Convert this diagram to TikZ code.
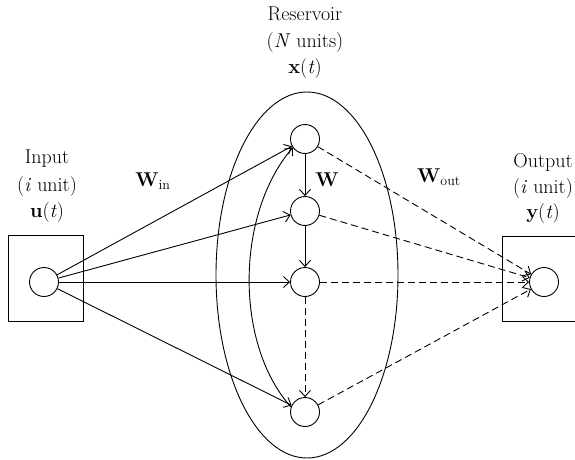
\documentclass[tikz,border=0pt]{standalone}
\usepackage{tikz}
\usetikzlibrary{arrows.meta,shapes.geometric}
\begin{document}
\begin{tikzpicture}[x=1pt,y=-1pt,
  unit/.style={circle,draw,line width=0.9pt,minimum size=29pt,inner sep=0pt},
  lbl/.style={anchor=base,font=\fontsize{20}{24}\selectfont,inner sep=0pt},
  conn/.style={line width=0.9pt,-{Straight Barb[length=6pt,width=11pt]}},
  dconn/.style={conn,dash pattern=on 7pt off 4pt},
  frame/.style={draw,line width=0.9pt,inner sep=0pt}]
\useasboundingbox (0,0) rectangle (575,460);
\clip (0,0) rectangle (575,460);
% boxes and reservoir
\node[frame,minimum width=75pt,minimum height=86pt] (inbox) at (45.5,278) {};
\node[frame,minimum width=75pt,minimum height=85pt] (outbox) at (539.5,278.5) {};
\node[frame,ellipse,minimum width=182pt,minimum height=366pt] (res) at (307,275) {};
% units
\node[unit] (in) at (44,282) {};
\node[unit] (r1) at (305,139) {};
\node[unit] (r2) at (305,211) {};
\node[unit] (r3) at (305,282) {};
\node[unit] (r4) at (305,412) {};
\node[unit] (out) at (544,282) {};
% input connections
\draw[conn] (in) -- (r1);
\draw[conn] (in) -- (r2);
\draw[conn] (in) -- (r3);
\draw[conn] (in) -- (r4);
% internal
\draw[conn] (r1) -- (r2);
\draw[conn] (r2) -- (r3);
\draw[dconn] (r3) -- (r4);
\draw[conn] (r4.160) .. controls (235,345) and (235,215) .. (r1.215);
% output connections
\draw[dconn] (r1) -- (out);
\draw[dconn] (r2) -- (out);
\draw[dconn] (r3) -- (out);
\draw[dconn] (r4) -- (out);
% labels
\node[lbl] (resT) at (305,21) {Reservoir};
\node[lbl] (resN) at (305,48) {(\textit{N} units)};
\node[lbl] (resX) at (305,74) {\textbf{x}(\textit{t})};
\node[lbl] (inT) at (47,163) {Input};
\node[lbl] (inI) at (47,191) {(\textit{i} unit)};
\node[lbl] (inU) at (47,217) {\textbf{u}(\textit{t})};
\node[lbl] (outT) at (543,167) {Output};
\node[lbl] (outI) at (543,193) {(\textit{i} unit)};
\node[lbl] (outY) at (543,218) {\textbf{y}(\textit{t})};
\node[lbl] (win) at (153,186) {\textbf{W}\textsubscript{in}};
\node[lbl] (wres) at (327,186) {\textbf{W}};
\node[lbl] (wout) at (439,182) {\textbf{W}\textsubscript{out}};
\end{tikzpicture}
\end{document}
